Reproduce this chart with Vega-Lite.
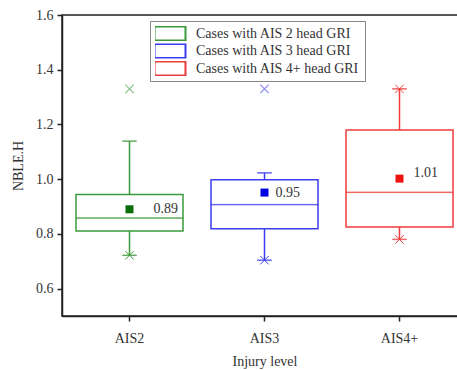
{
  "$schema": "https://vega.github.io/schema/vega-lite/v6.json",
  "width": 405,
  "height": 301,
  "autosize": "none",
  "padding": {"left": 62, "top": 15, "right": 0, "bottom": 54},
  "background": "white",
  "config": {
    "font": "Liberation Serif",
    "view": {"stroke": "#222", "strokeWidth": 1.5},
    "axis": {
      "domainColor": "#222", "domainWidth": 1.5,
      "tickColor": "#222", "tickWidth": 1.5,
      "labelColor": "#333", "labelFontSize": 14, "labelFont": "Liberation Serif",
      "titleColor": "#333", "titleFontSize": 14, "titleFontWeight": "normal", "titleFont": "Liberation Serif",
      "grid": false
    },
    "legend": {
      "labelFont": "Liberation Serif",
      "labelFontSize": 14,
      "labelColor": "#333",
      "labelLimit": 400
    }
  },
  "datasets": {
    "stats": [
      {"level": "AIS2", "lo": 0.722, "q1": 0.811, "med": 0.858, "q3": 0.944, "hi": 1.139, "mean": 0.89, "label": "0.89"},
      {"level": "AIS3", "lo": 0.704, "q1": 0.819, "med": 0.907, "q3": 0.998, "hi": 1.023, "mean": 0.951, "label": "0.95"},
      {"level": "AIS4+", "lo": 0.78, "q1": 0.825, "med": 0.952, "q3": 1.18, "hi": 1.33, "mean": 1.002, "label": "1.01"}
    ],
    "points": [
      {"level": "AIS2", "value": 0.722, "kind": "end"},
      {"level": "AIS3", "value": 0.704, "kind": "end"},
      {"level": "AIS4+", "value": 1.33, "kind": "end"},
      {"level": "AIS4+", "value": 0.78, "kind": "end"},
      {"level": "AIS2", "value": 1.33, "kind": "outlier"},
      {"level": "AIS3", "value": 1.33, "kind": "outlier"}
    ]
  },
  "encoding": {
    "x": {
      "field": "level", "type": "nominal",
      "scale": {"domain": ["AIS2", "AIS3", "AIS4+"], "paddingInner": 0, "paddingOuter": 0},
      "axis": {"title": "Injury level", "labelAngle": 0, "tickSize": 5, "labelPadding": 10, "titlePadding": 9}
    }
  },
  "layer": [
    {
      "data": {"name": "stats"},
      "mark": {"type": "bar", "size": 107, "filled": false, "strokeWidth": 1.5},
      "encoding": {
        "y": {
          "field": "q1", "type": "quantitative",
          "scale": {"domain": [0.5, 1.6], "nice": false, "zero": false},
          "axis": {
            "title": "NBLE.H",
            "values": [0.6, 0.7, 0.8, 0.9, 1.0, 1.1, 1.2, 1.3, 1.4, 1.5, 1.6],
            "labelExpr": "round(datum.value*10) % 2 == 0 ? format(datum.value, '.1f') : ''",
            "tickSize": {"condition": {"test": "round(datum.value*10) % 2 == 0", "value": 5}, "value": 3},
            "labelPadding": 4,
            "titlePadding": 10
          }
        },
        "y2": {"field": "q3"},
        "color": {
          "field": "level", "type": "nominal",
          "scale": {"domain": ["AIS2", "AIS3", "AIS4+"], "range": ["#3a9a3a", "#3c3cf0", "#ee3c3c"]},
          "legend": {
            "orient": "none", "legendX": 88, "legendY": 6, "title": null,
            "values": ["AIS2", "AIS3", "AIS4+"],
            "labelExpr": "'Cases with AIS ' + replace(datum.label, 'AIS', '') + ' head GRI'",
            "symbolType": "M-2,-0.9H2V0.9H-2Z",
            "symbolSize": 240,
            "symbolStrokeWidth": 2,
            "symbolFillColor": "white",
            "symbolOffset": 6,
            "strokeColor": "#888",
            "fillColor": "transparent",
            "padding": 5,
            "labelOffset": 17,
            "rowPadding": 2.5,
            "clipHeight": 15,
            "labelFont": "Times New Roman",
            "labelFontSize": 14,
            "labelColor": "#333"
          }
        }
      }
    },
    {
      "data": {"name": "stats"},
      "mark": {"type": "rule", "strokeWidth": 1.5},
      "encoding": {
        "y": {"field": "lo", "type": "quantitative"},
        "y2": {"field": "q1"},
        "stroke": {"field": "level", "type": "nominal", "scale": {"domain": ["AIS2", "AIS3", "AIS4+", "-"], "range": ["#3a9a3a", "#3c3cf0", "#ee3c3c", "#999"]}, "legend": null}
      }
    },
    {
      "data": {"name": "stats"},
      "mark": {"type": "rule", "strokeWidth": 1.5},
      "encoding": {
        "y": {"field": "q3", "type": "quantitative"},
        "y2": {"field": "hi"},
        "stroke": {"field": "level", "type": "nominal", "legend": null}
      }
    },
    {
      "data": {"name": "stats"},
      "mark": {"type": "tick", "size": 107, "thickness": 0.5, "filled": false, "strokeWidth": 1},
      "encoding": {
        "y": {"field": "med", "type": "quantitative"},
        "stroke": {"field": "level", "type": "nominal", "legend": null}
      }
    },
    {
      "data": {"name": "stats"},
      "mark": {"type": "tick", "size": 14, "thickness": 0.5, "filled": false, "strokeWidth": 1},
      "encoding": {
        "y": {"field": "lo", "type": "quantitative"},
        "stroke": {"field": "level", "type": "nominal", "legend": null}
      }
    },
    {
      "data": {"name": "stats"},
      "mark": {"type": "tick", "size": 14, "thickness": 0.5, "filled": false, "strokeWidth": 1},
      "encoding": {
        "y": {"field": "hi", "type": "quantitative"},
        "stroke": {"field": "level", "type": "nominal", "legend": null}
      }
    },
    {
      "data": {"name": "points"},
      "transform": [{"filter": "datum.kind == 'end'"}],
      "mark": {"type": "point", "shape": "M-1,-1L1,1M-1,1L1,-1", "filled": false, "size": 70, "strokeWidth": 1, "opacity": 1},
      "encoding": {
        "y": {"field": "value", "type": "quantitative"},
        "stroke": {"field": "level", "type": "nominal", "legend": null}
      }
    },
    {
      "data": {"name": "points"},
      "transform": [{"filter": "datum.kind == 'outlier'"}],
      "mark": {"type": "point", "shape": "M-1,-1L1,1M-1,1L1,-1", "filled": false, "size": 70, "strokeWidth": 1.2, "opacity": 0.6},
      "encoding": {
        "y": {"field": "value", "type": "quantitative"},
        "stroke": {"field": "level", "type": "nominal", "legend": null}
      }
    },
    {
      "data": {"name": "stats"},
      "mark": {"type": "point", "shape": "square", "filled": true, "size": 64, "opacity": 1},
      "encoding": {
        "y": {"field": "mean", "type": "quantitative"},
        "fill": {
          "field": "level", "type": "nominal",
          "scale": {"domain": ["AIS2", "AIS3", "AIS4+", "--"], "range": ["#0b6e0b", "#0000e6", "#ee1111", "#000"]},
          "legend": null
        }
      }
    },
    {
      "data": {"name": "stats"},
      "transform": [{"filter": "datum.level == 'AIS2'"}],
      "mark": {"type": "text", "align": "left", "baseline": "middle", "dx": 24, "fontSize": 14, "color": "#333"},
      "encoding": {"y": {"field": "mean", "type": "quantitative"}, "text": {"field": "label"}}
    },
    {
      "data": {"name": "stats"},
      "transform": [{"filter": "datum.level == 'AIS3'"}],
      "mark": {"type": "text", "align": "left", "baseline": "middle", "dx": 11, "fontSize": 14, "color": "#333"},
      "encoding": {"y": {"field": "mean", "type": "quantitative"}, "text": {"field": "label"}}
    },
    {
      "data": {"name": "stats"},
      "transform": [{"filter": "datum.level == 'AIS4+'"}],
      "mark": {"type": "text", "align": "left", "baseline": "middle", "dx": 14, "dy": -6, "fontSize": 14, "color": "#333"},
      "encoding": {"y": {"field": "mean", "type": "quantitative"}, "text": {"field": "label"}}
    }
  ]
}
